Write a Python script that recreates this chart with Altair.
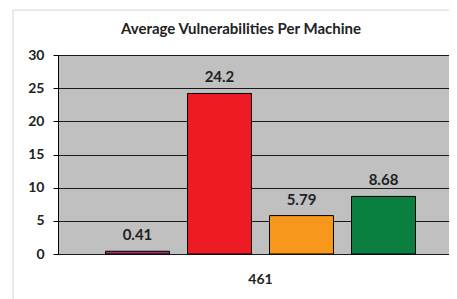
import altair as alt
import pandas as pd

categories = ["461", "461", "461", "461"]
series = ["A", "B", "C", "D"]
values = [0.41, 24.2, 5.79, 8.68]
labels = ["0.41", "24.2", "5.79", "8.68"]
colors = ["#a2326e", "#ed1c24", "#f7981d", "#0b7f3f"]
title_text = ["Average Vulnerabilities Per Machine"]

df = pd.DataFrame({"cat": categories, "series": series, "value": values, "label": labels})

W, H = 391, 199
FONT = "Lato"

x_enc = alt.X("cat:N", title=None,
              scale=alt.Scale(paddingInner=0, paddingOuter=0.096, align=0.611),
              axis=alt.Axis(domain=False, ticks=False, grid=False, labelAngle=0,
                            labelFont=FONT, labelFontWeight="bold", labelFontSize=14,
                            labelColor="#222", labelPadding=18))
xo = alt.XOffset("series:N", sort=series,
                 scale=alt.Scale(paddingInner=0.22, paddingOuter=0.11))
y_enc = alt.Y("value:Q", title=None,
              scale=alt.Scale(domain=[0, 30], nice=False),
              axis=alt.Axis(values=[0, 5, 10, 15, 20, 25, 30], grid=True, gridColor="#1a1a1a",
                            gridWidth=1, gridOpacity=1, domainColor="#000", tickColor="#000",
                            tickSize=5, labelOverlap=False, labelFont=FONT,
                            labelFontWeight="bold", labelFontSize=14, labelColor="#222",
                            labelPadding=9))

bars = alt.Chart(df).mark_bar(stroke="#000", strokeWidth=1).encode(
    x=x_enc, xOffset=xo, y=y_enc,
    color=alt.Color("series:N", scale=alt.Scale(domain=series, range=colors), legend=None),
)
text = alt.Chart(df).mark_text(font=FONT, fontWeight="bold", fontSize=15, color="#222",
                               baseline="alphabetic", dy=-11).encode(
    x=x_enc, xOffset=xo, y=y_enc, text="label:N")

frame = alt.Chart(pd.DataFrame({"a": [0]})).mark_rect(
    fill="transparent", fillOpacity=0, stroke="#d4d4d4", strokeWidth=1, clip=False).encode(
    x=alt.value(-45), x2=alt.value(W + 30), y=alt.value(-45), y2=alt.value(H + 80))

title = alt.Chart(pd.DataFrame({"t": title_text})).mark_text(
    font=FONT, fontSize=15, fontWeight="bold", color="#222", baseline="alphabetic",
    align="center").encode(x=alt.value(W / 2 - 12.5), y=alt.value(-21), text="t:N")

chart = alt.layer(frame, bars, text, title).properties(
    width=W, height=H,
    background="white",
    autosize=alt.AutoSizeParams(type="none"),
    padding={"left": 50, "top": 47, "right": 0, "bottom": 45},
).configure_view(fill="#c0c0c0", stroke=None)

chart.save("out.html", embed_options={"renderer": "svg", "actions": False})
